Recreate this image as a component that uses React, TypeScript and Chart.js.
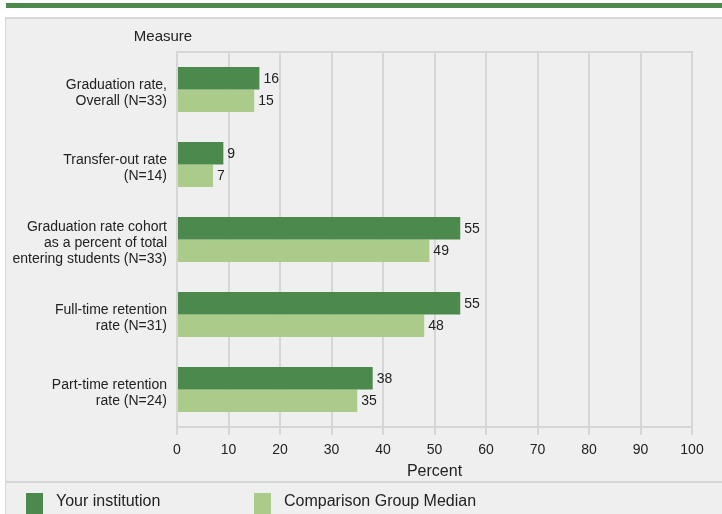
import React, { useEffect, useRef } from "react";
import { Chart, registerables } from "chart.js";

Chart.register(...registerables);

const categories: string[][] = [
  ["Graduation rate,", "Overall (N=33)"],
  ["Transfer-out rate", "(N=14)"],
  ["Graduation rate cohort", "as a percent of total", "entering students (N=33)"],
  ["Full-time retention", "rate (N=31)"],
  ["Part-time retention", "rate (N=24)"],
];
const yourInstitution = [16, 9, 55, 55, 38];
const comparisonMedian = [15, 7, 49, 48, 35];
const seriesLabels = ["Your institution", "Comparison Group Median"];
const axisTitleY = "Measure";
const axisTitleX = "Percent";

const DARK = "#4b8a4c";
const LIGHT = "#aacb89";
const FONT = "'Liberation Sans', Arial, sans-serif";

const framePlugin = {
  id: "frame",
  beforeDraw(chart: any) {
    const ctx = chart.ctx;
    const W = chart.width;
    ctx.save();
    ctx.fillStyle = "#ffffff";
    ctx.fillRect(0, 0, W, chart.height);
    // top green bar
    ctx.fillStyle = DARK;
    ctx.fillRect(6, 3, W - 6, 5);
    // panel
    ctx.fillStyle = "#efefef";
    ctx.fillRect(5, 17, W - 5, chart.height - 17);
    ctx.fillStyle = "#d6d6d6";
    ctx.fillRect(5, 17, W - 5, 2);
    ctx.fillRect(5, 17, 1, chart.height - 17);
    // separator
    ctx.fillRect(5, 481, W - 5, 2);
    ctx.restore();
  },
  afterDraw(chart: any) {
    const ctx = chart.ctx;
    const area = chart.chartArea;
    ctx.save();
    // top frame line
    ctx.fillStyle = "#d6d6d6";
    ctx.fillRect(area.left - 1, area.top - 1, area.right - area.left + 2, 2);
    // Measure title
    ctx.fillStyle = "#222";
    ctx.font = `15px ${FONT}`;
    ctx.textAlign = "center";
    ctx.textBaseline = "middle";
    ctx.fillText(axisTitleY, 163, 37);
    // category labels
    const yScale = chart.scales.y;
    ctx.font = `14px ${FONT}`;
    ctx.textAlign = "right";
    const lh = 16;
    categories.forEach((lines, i) => {
      const cy = yScale.getPixelForValue(i) + 3.5;
      const start = cy - ((lines.length - 1) * lh) / 2;
      lines.forEach((line, j) => {
        ctx.fillText(line, area.left - 10, start + j * lh);
      });
    });
    // data labels
    ctx.textAlign = "left";
    chart.data.datasets.forEach((ds: any, di: number) => {
      const meta = chart.getDatasetMeta(di);
      meta.data.forEach((bar: any, i: number) => {
        ctx.fillText(String(ds.data[i]), bar.x + 4, bar.y + 0.5);
      });
    });
    // legend
    const items = [
      { x: 26, w: 17, color: DARK, text: seriesLabels[0] },
      { x: 254, w: 17, color: LIGHT, text: seriesLabels[1] },
    ];
    ctx.font = `16px ${FONT}`;
    items.forEach((it) => {
      ctx.fillStyle = it.color;
      ctx.fillRect(it.x, 493, it.w, 21);
      ctx.fillStyle = "#222";
      ctx.fillText(it.text, it.x + 30, 502);
    });
    ctx.restore();
  },
};

export default function App() {
  const ref = useRef<HTMLCanvasElement | null>(null);
  useEffect(() => {
    if (!ref.current) return;
    const chart = new Chart(ref.current, {
      type: "bar",
      data: {
        labels: categories.map((c) => c.join(" ")),
        datasets: [
          {
            label: seriesLabels[0],
            data: yourInstitution,
            backgroundColor: DARK,
            barPercentage: 1,
            categoryPercentage: 0.6,
          },
          {
            label: seriesLabels[1],
            data: comparisonMedian,
            backgroundColor: LIGHT,
            barPercentage: 1,
            categoryPercentage: 0.6,
          },
        ],
      },
      options: {
        indexAxis: "y",
        animation: false,
        responsive: true,
        maintainAspectRatio: false,
        layout: { padding: { top: 52, right: 30, bottom: 33, left: 6 } },
        plugins: {
          legend: { display: false },
          tooltip: { enabled: false },
        },
        scales: {
          x: {
            type: "linear",
            min: 0,
            max: 100,
            ticks: {
              stepSize: 10,
              color: "#222",
              font: { family: FONT, size: 14 },
              padding: 7,
            },
            grid: { color: "#d6d6d6", lineWidth: 2, tickLength: 8 },
            border: { display: true, color: "#d6d6d6", width: 2 },
            title: {
              display: true,
              text: axisTitleX,
              color: "#222",
              font: { family: FONT, size: 16 },
              padding: { top: 1, bottom: 0 },
            },
            afterFit(scale: any) {
              scale.height = 54;
            },
          },
          y: {
            type: "category",
            grid: { display: false, drawTicks: false },
            border: { display: false },
            ticks: { display: false },
            afterFit(scale: any) {
              scale.width = 171;
            },
          },
        },
      } as any,
      plugins: [framePlugin],
    });
    return () => chart.destroy();
  }, []);
  return (
    <div style={{ position: "absolute", left: 0, top: 0, width: 722, height: 514 }}>
      <canvas ref={ref} />
    </div>
  );
}
